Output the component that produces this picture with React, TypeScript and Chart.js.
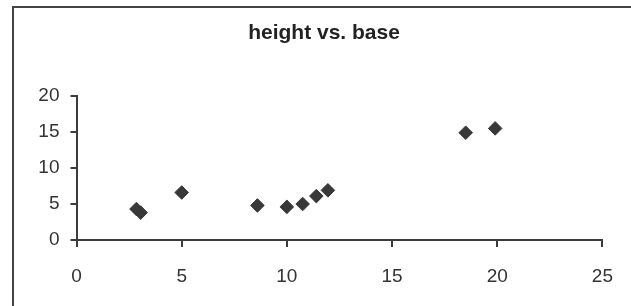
import React, { useEffect, useRef } from "react";
import { Chart, registerables } from "chart.js";

Chart.register(...registerables);

const TITLE = "height vs. base";
const baseValues = [2.85, 3.05, 5.0, 8.6, 10.0, 10.75, 11.4, 11.95, 18.5, 19.9];
const heightValues = [4.3, 3.8, 6.6, 4.8, 4.6, 5.0, 6.1, 6.9, 14.9, 15.5];
const xTicks = [0, 5, 10, 15, 20, 25];
const yTicks = [0, 5, 10, 15, 20];

const FONT = "'Liberation Sans', Arial, sans-serif";
const AXIS_COLOR = "#3c3c3c";
const TEXT_COLOR = "#333333";
const MARK_COLOR = "#383838";

const framePlugin = {
  id: "frame",
  afterDraw(chart: any) {
    const ctx = chart.ctx;
    ctx.save();
    ctx.strokeStyle = "#444444";
    ctx.lineWidth = 2;
    ctx.beginPath();
    ctx.moveTo(13, chart.height);
    ctx.lineTo(13, 7);
    ctx.lineTo(chart.width, 7);
    ctx.stroke();
    ctx.fillStyle = "#222222";
    ctx.font = `bold 21px ${FONT}`;
    ctx.textAlign = "center";
    ctx.textBaseline = "middle";
    ctx.fillText(TITLE, 324, 33);
    ctx.restore();
  },
};

export default function App() {
  const ref = useRef<HTMLCanvasElement | null>(null);
  useEffect(() => {
    if (!ref.current) return;
    const points = baseValues.map((x, i) => ({ x, y: heightValues[i] }));
    const chart = new Chart(ref.current, {
      type: "scatter",
      data: {
        datasets: [
          {
            label: "height",
            data: points,
            pointStyle: "rectRot",
            pointRadius: 6.8,
            backgroundColor: MARK_COLOR,
            borderColor: MARK_COLOR,
            borderWidth: 1,
          },
        ],
      },
      options: {
        responsive: false,
        animation: false,
        layout: { padding: { left: 0, right: 27, top: 96, bottom: 0 } },
        plugins: {
          legend: { display: false },
          tooltip: { enabled: false },
          title: { display: false },
        },
        scales: {
          x: {
            type: "linear",
            min: xTicks[0],
            max: xTicks[xTicks.length - 1],
            afterBuildTicks: (s: any) => {
              s.ticks = xTicks.map((v) => ({ value: v }));
            },
            afterFit: (s: any) => {
              s.height = 66;
            },
            ticks: {
              color: TEXT_COLOR,
              font: { family: FONT, size: 19 },
              padding: 18,
              maxRotation: 0,
            },
            grid: {
              drawOnChartArea: false,
              drawTicks: true,
              tickLength: 7,
              color: AXIS_COLOR,
              lineWidth: 2,
            },
            border: { display: true, color: AXIS_COLOR, width: 2 },
          },
          y: {
            type: "linear",
            min: yTicks[0],
            max: yTicks[yTicks.length - 1],
            afterBuildTicks: (s: any) => {
              s.ticks = yTicks.map((v) => ({ value: v }));
            },
            afterFit: (s: any) => {
              s.width = 76.5;
            },
            ticks: {
              color: TEXT_COLOR,
              font: { family: FONT, size: 19 },
              padding: 11,
            },
            grid: {
              drawOnChartArea: false,
              drawTicks: true,
              tickLength: 6,
              color: AXIS_COLOR,
              lineWidth: 2,
            },
            border: { display: true, color: AXIS_COLOR, width: 2 },
          },
        },
      },
      plugins: [framePlugin],
    });
    return () => chart.destroy();
  }, []);
  return (
    <div
      style={{
        position: "fixed",
        left: 0,
        top: 0,
        width: 631,
        height: 306,
        background: "#ffffff",
      }}
    >
      <canvas ref={ref} width={631} height={306} />
    </div>
  );
}
